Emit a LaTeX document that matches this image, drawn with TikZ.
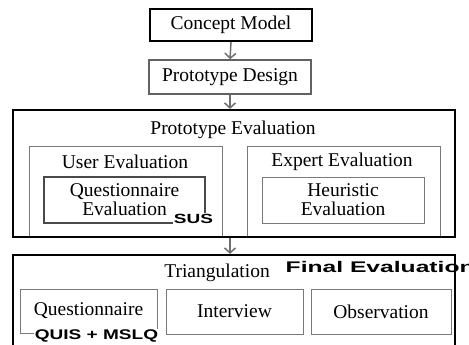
\documentclass[tikz,border=0pt]{standalone}
\usepackage{fontspec}
\setmainfont{Liberation Serif}
\setsansfont{Liberation Sans}
\usetikzlibrary{arrows.meta, positioning}

\definecolor{linegray}{HTML}{6E6E6E}
\definecolor{boxgray}{HTML}{7A7A7A}

\newcommand{\widetag}[2]{\scalebox{#1}[1]{#2}}

\begin{document}
\begin{tikzpicture}[x=1pt,y=-1pt]
\tikzset{
    every node/.style={font=\fontsize{19.5}{19}\selectfont, align=center},
    mainbox/.style={draw=black, line width=2.2pt, inner sep=0pt},
    stagebox/.style={draw=boxgray!80!black, line width=1.5pt, inner sep=0pt},
    subbox/.style={draw=boxgray, line width=1pt, inner sep=0pt},
    tag/.style={font=\sffamily\bfseries\fontsize{#1}{#1}\selectfont, inner sep=0.5pt},
    flow/.style={draw=linegray, line width=1.5pt, -{Straight Barb[length=5pt,width=11pt]}}
}
\useasboundingbox (0,0) rectangle (469,345);

% Top of the chain
\node[mainbox, minimum width=162pt, minimum height=32pt] (concept) at (231,25) {Concept Model};
\node[stagebox, minimum width=162pt, minimum height=34pt] (design) at (230,77) {Prototype Design};

% Prototype evaluation
\node[subbox, minimum width=193pt, minimum height=91pt] (user) at (125.5,191.5) {};
\node[subbox, minimum width=193pt, minimum height=91pt] (expert) at (343.5,191.5) {};
\node[mainbox, minimum width=442pt, minimum height=127pt] (proteval) at (234,173.5) {};
\node (protevaltitle) at (233,130) {Prototype Evaluation};

\node (usertitle) at (125,162) {User Evaluation};
\node[subbox, draw=boxgray!60!black, line width=1.2pt, minimum width=161pt, minimum height=46pt] (qeval) at (124.5,200) {Questionnaire\\Evaluation};
\node (experttitle) at (342,162) {Expert Evaluation};
\node[subbox, minimum width=162pt, minimum height=46pt] (heuristic) at (343,200) {Heuristic\\Evaluation};
\node[tag=13.3, fill=white] (sus) at (193.5,218.5) {\widetag{1.43}{SUS}};

% Final evaluation
\node[mainbox, minimum width=442pt, minimum height=125pt] (final) at (234,317.5) {};
\node (triangulation) at (217,273) {Triangulation};
\node[tag=15.4, anchor=west] (finaltag) at (285,267) {\widetag{1.6}{Final Evaluation}};

\node[subbox, minimum width=137pt, minimum height=44pt] (quest) at (88.5,311) {Questionnaire};
\node[subbox, minimum width=137pt, minimum height=45pt] (interview) at (234.5,311.5) {Interview};
\node[subbox, minimum width=140pt, minimum height=45pt] (observation) at (381,311.5) {Observation};
\node[tag=14, fill=white] (quis) at (96.5,336) {\widetag{1.36}{QUIS + MSLQ}};

% Arrows
\draw[flow] (concept.south) -- (design.north);
\draw[flow] (design.south) -- (design.south |- proteval.north);
\draw[flow] (design.south |- proteval.south) -- (design.south |- final.north);

\end{tikzpicture}
\end{document}
